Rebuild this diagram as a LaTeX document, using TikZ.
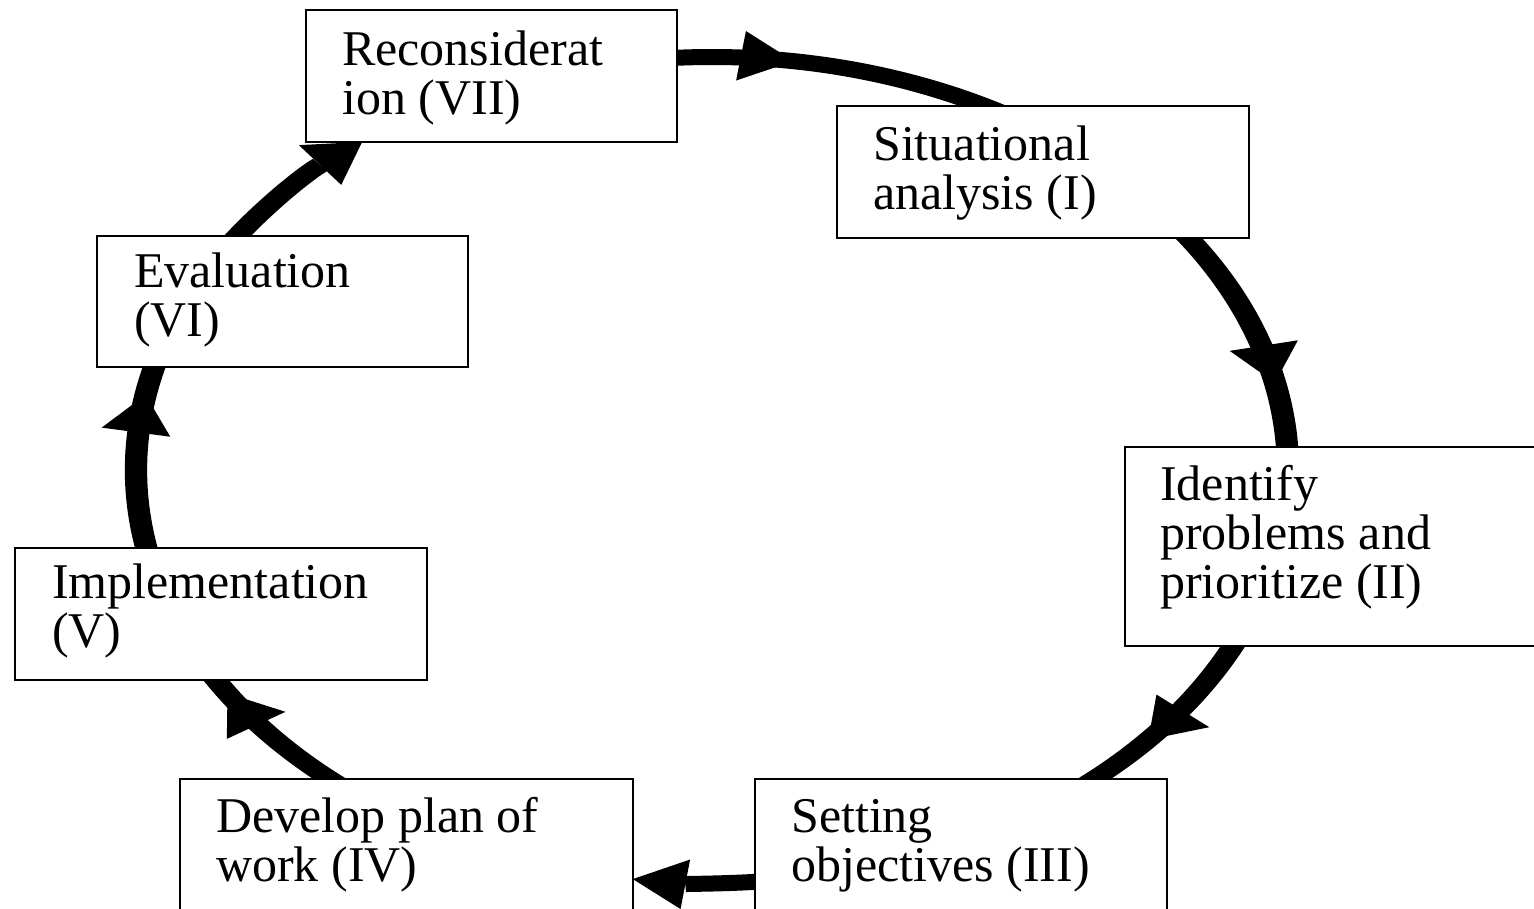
\documentclass[tikz,border=0pt]{standalone}
\usepackage{fontspec}
\setmainfont{Liberation Serif}
\usetikzlibrary{arrows.meta,decorations.markings}
\begin{document}
\begin{tikzpicture}[x=1pt,y=-1pt,
  stage/.style={draw=black, line width=2.5pt, fill=white, anchor=north west, inner sep=0pt, outer sep=0pt},
  lbl/.style={anchor=base west, inner sep=0pt, font=\fontsize{50}{48.5}\selectfont},
  headtip/.tip={Triangle[length=38pt,width=50pt,line width=0pt]},
  flow/.style={line width=16pt, draw=black, postaction={decorate},
    decoration={markings, mark=at position #1 with {\arrow{headtip}}}},
  flowend/.style={line width=16pt, draw=black, -{headtip}}
]
\useasboundingbox (0,0) rectangle (1534,908);
\clip (0,0) rectangle (1534,908);
\fill[white] (0,0) rectangle (1534,908);

% cycle connectors: a circle stretched horizontally into the ellipse
\begin{scope}[transform canvas={xscale=1.39467}]
  \coordinate (c1) at ({510.5+413*cos(-95)},{470+413*sin(-95)});
  \coordinate (c2) at ({510.5+413*cos(-36)},{470+413*sin(-36)});
  \coordinate (c3) at ({510.5+413*cos(22)},{470+413*sin(22)});
  \coordinate (c4) at ({510.5+413*cos(84)},{470+413*sin(84)});
  \coordinate (c5) at ({510.5+413*cos(129)},{470+413*sin(129)});
  \coordinate (c6) at ({510.5+413*cos(167)},{470+413*sin(167)});
  \coordinate (c7) at ({510.5+413*cos(212)},{470+413*sin(212)});
  \draw[flow=0.355] (c1) arc[start angle=-95, end angle=-58, radius=413];
  \draw[flow=0.70] (c2) arc[start angle=-36, end angle=-2, radius=413];
  \draw[flow=0.67] (c3) arc[start angle=22, end angle=50, radius=413];
  \draw[flowend] (c4) arc[start angle=84, end angle=97.9, radius=413];
  \draw[flow=0.83] (c5) arc[start angle=129, end angle=151, radius=413];
  \draw[flow=0.81] (c6) arc[start angle=167, end angle=196, radius=413];
  \draw[flowend] (c7) arc[start angle=212, end angle=232.6, radius=413];
\end{scope}

% boxes
\node[stage, minimum width=371pt, minimum height=132pt] (VII) at (306,10) {};
\node[stage, minimum width=412pt, minimum height=132pt] (I) at (837,106) {};
\node[stage, minimum width=430pt, minimum height=199pt] (II) at (1125,447) {};
\node[stage, minimum width=412pt, minimum height=141pt] (III) at (755,779) {};
\node[stage, minimum width=453pt, minimum height=141pt] (IV) at (180,779) {};
\node[stage, minimum width=412pt, minimum height=132pt] (V) at (15,548) {};
\node[stage, minimum width=371pt, minimum height=131pt] (VI) at (97,236) {};

% texts
\node[lbl] (tVII) at (342,65) {\begin{tabular}[t]{@{}l@{}}Reconsiderat\\ion (VII)\end{tabular}};
\node[lbl] (tI) at (873,160) {\begin{tabular}[t]{@{}l@{}}Situational\\analysis (I)\end{tabular}};
\node[lbl] (tII) at (1160,500) {\begin{tabular}[t]{@{}l@{}}Identify\\problems and\\prioritize (II)\end{tabular}};
\node[lbl] (tIII) at (791,832) {\begin{tabular}[t]{@{}l@{}}Setting\\objectives (III)\end{tabular}};
\node[lbl] (tIV) at (216,832) {\begin{tabular}[t]{@{}l@{}}Develop plan of\\work (IV)\end{tabular}};
\node[lbl] (tV) at (52,598) {\begin{tabular}[t]{@{}l@{}}Implementation\\(V)\end{tabular}};
\node[lbl] (tVI) at (134,287) {\begin{tabular}[t]{@{}l@{}}Evaluation\\(VI)\end{tabular}};
\end{tikzpicture}
\end{document}
